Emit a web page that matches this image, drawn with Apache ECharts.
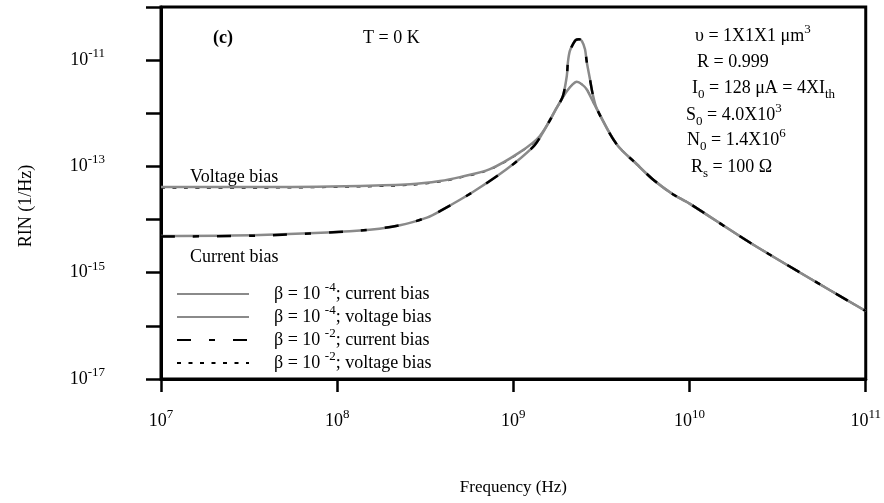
<!DOCTYPE html>
<html><head><meta charset="utf-8">
<script src="https://cdn.jsdelivr.net/npm/echarts@6/dist/echarts.min.js"></script>
<style>html,body{margin:0;padding:0;background:#fff}#c{width:884px;height:503px}</style>
</head><body><div id="c"></div>
<script>
const FONT = "'Liberation Serif','Times New Roman',serif";

// legend entries: [beta exponent, bias]
const legendBetaExp = ['-4', '-4', '-2', '-2'];
const legendBias = ['current bias', 'voltage bias', 'current bias', 'voltage bias'];

// tick label exponents
const xLabelExponents = [7, 8, 9, 10, 11];
const yLabelExponents = [-17, -15, -13, -11];

// beta = 1e-4, current bias
const freqCurrentB4 = [1.0e7, 3.65e7, 1.35e8, 2.27e8, 3.23e8, 3.83e8, 5.89e8, 9.18e8, 1.29e9, 1.45e9, 1.77e9, 1.91e9, 2.01e9, 2.04e9, 2.09e9, 2.18e9, 2.26e9, 2.36e9, 2.45e9, 2.55e9, 2.61e9, 2.72e9, 2.82e9, 2.98e9, 3.86e9, 5.02e9, 6.35e9, 8.04e9, 1.0e10, 2.29e10, 1.0e11];
const rinCurrentB4 = [4.9e-15, 5.1e-15, 6.2e-15, 7.85e-15, 1.09e-14, 1.44e-14, 3.3e-14, 8.9e-14, 2.3e-13, 4.0e-13, 1.3e-12, 2.1e-12, 5.0e-12, 9.2e-12, 1.48e-11, 2.0e-11, 2.4e-11, 2.48e-11, 2.28e-11, 1.6e-11, 9.2e-12, 4.4e-12, 2.3e-12, 1.2e-12, 2.6e-13, 1.1e-13, 5.3e-14, 3.0e-14, 2.0e-14, 3.4e-15, 1.9e-16];

// beta = 1e-4, voltage bias
const freqVoltageB4 = [1.0e7, 3.65e7, 1.35e8, 2.59e8, 3.83e8, 4.97e8, 7.36e8, 1.09e9, 1.41e9, 1.77e9, 1.91e9, 2.01e9, 2.15e9, 2.29e9, 2.45e9, 2.61e9, 2.82e9, 2.98e9, 3.86e9, 5.02e9, 6.35e9, 8.04e9, 1.0e10, 2.29e10, 1.0e11];
const rinVoltageB4 = [4.1e-14, 4.1e-14, 4.3e-14, 4.6e-14, 5.3e-14, 6.3e-14, 8.9e-14, 1.86e-13, 3.7e-13, 1.3e-12, 2.0e-12, 2.6e-12, 3.4e-12, 3.9e-12, 3.5e-12, 2.8e-12, 1.7e-12, 1.2e-12, 2.6e-13, 1.1e-13, 5.3e-14, 3.0e-14, 2.0e-14, 3.4e-15, 1.9e-16];

// beta = 1e-2, current bias
const freqCurrentB2 = [1.0e7, 3.65e7, 1.35e8, 2.27e8, 3.23e8, 3.83e8, 5.89e8, 9.18e8, 1.29e9, 1.45e9, 1.77e9, 1.91e9, 2.01e9, 2.04e9, 2.09e9, 2.18e9, 2.26e9, 2.36e9, 2.45e9, 2.55e9, 2.61e9, 2.72e9, 2.82e9, 2.98e9, 3.86e9, 5.02e9, 6.35e9, 8.04e9, 1.0e10, 2.29e10, 1.0e11];
const rinCurrentB2 = [4.8e-15, 5.0e-15, 6.2e-15, 7.85e-15, 1.09e-14, 1.44e-14, 3.3e-14, 8.9e-14, 2.3e-13, 4.0e-13, 1.3e-12, 2.1e-12, 5.0e-12, 9.2e-12, 1.48e-11, 2.0e-11, 2.4e-11, 2.48e-11, 2.28e-11, 1.6e-11, 9.2e-12, 4.4e-12, 2.3e-12, 1.2e-12, 2.6e-13, 1.1e-13, 5.3e-14, 3.0e-14, 2.0e-14, 3.4e-15, 1.9e-16];

// beta = 1e-2, voltage bias
const freqVoltageB2 = [1.0e7, 3.65e7, 1.35e8, 2.59e8, 3.83e8, 4.97e8, 7.36e8, 1.09e9, 1.41e9, 1.77e9, 1.91e9, 2.01e9, 2.15e9, 2.29e9, 2.45e9, 2.61e9, 2.82e9, 2.98e9, 3.86e9, 5.02e9, 6.35e9, 8.04e9, 1.0e10, 2.29e10, 1.0e11];
const rinVoltageB2 = [3.95e-14, 3.95e-14, 4.15e-14, 4.45e-14, 5.15e-14, 6.1e-14, 8.7e-14, 1.82e-13, 3.65e-13, 1.3e-12, 2.0e-12, 2.6e-12, 3.4e-12, 3.9e-12, 3.5e-12, 2.8e-12, 1.7e-12, 1.2e-12, 2.6e-13, 1.1e-13, 5.3e-14, 3.0e-14, 2.0e-14, 3.4e-15, 1.9e-16];

const zip = (xs, ys) => xs.map((x, i) => [x, ys[i]]);
const names = legendBetaExp.map((e, i) => 'b' + e + ' ' + legendBias[i]);

const supRich = {
  b: { fontFamily: FONT, fontSize: 18, color: '#000', lineHeight: 26, verticalAlign: 'middle' },
  s: { fontFamily: FONT, fontSize: 13, color: '#000', lineHeight: 13, verticalAlign: 'top' }
};
const annRich = {
  t: { fontFamily: FONT, fontSize: 18, color: '#000', lineHeight: 26, verticalAlign: 'middle' },
  tb: { fontFamily: FONT, fontSize: 18, fontWeight: 'bold', color: '#000', lineHeight: 26, verticalAlign: 'middle' },
  sup: { fontFamily: FONT, fontSize: 13, color: '#000', lineHeight: 13, verticalAlign: 'top' },
  sub: { fontFamily: FONT, fontSize: 13, color: '#000', lineHeight: 13, verticalAlign: 'bottom' },
  sp: { width: 20 }
};

function ann(x, y, text, rot) {
  const el = { type: 'text', x: x, y: y, z: 100,
    style: { text: text, rich: annRich, align: rot ? 'center' : 'left', verticalAlign: 'middle', fill: '#000', font: '18px ' + FONT } };
  if (rot) { el.rotation = Math.PI / 2; }
  return el;
}

const chart = echarts.init(document.getElementById('c'), null, { renderer: 'canvas' });
chart.setOption({
  animation: false,
  backgroundColor: '#fff',
  grid: { left: 161, right: 18, top: 7, bottom: 124, show: true, borderColor: '#000', borderWidth: 3, backgroundColor: 'transparent' },
  xAxis: {
    type: 'log', logBase: 10, min: 1e7, max: 1e11, interval: 1,
    name: 'Frequency (Hz)', nameLocation: 'middle', nameGap: 100,
    nameTextStyle: { fontFamily: FONT, fontSize: 17, color: '#000' },
    axisLine: { show: true, lineStyle: { color: '#000', width: 3 } },
    axisTick: { show: true, inside: false, length: 13, lineStyle: { color: '#000', width: 2.5 } },
    splitLine: { show: false }, minorTick: { show: false },
    axisLabel: {
      margin: 29, showMinLabel: true, showMaxLabel: true,
      formatter: v => { const e = Math.round(Math.log10(v)); return xLabelExponents.includes(e) ? '{b|10}{s|' + e + '}' : ''; },
      rich: supRich
    }
  },
  yAxis: {
    type: 'log', logBase: 10, min: 1e-17, max: 1e-10, interval: 1,
    axisLine: { show: true, lineStyle: { color: '#000', width: 3 } },
    axisTick: { show: true, inside: false, length: 15, lineStyle: { color: '#000', width: 2.5 } },
    splitLine: { show: false }, minorTick: { show: false },
    axisLabel: {
      margin: 56, showMinLabel: true, showMaxLabel: true,
      formatter: v => { const e = Math.round(Math.log10(v)); return yLabelExponents.includes(e) ? '{b|10}{s|' + e + '}' : ''; },
      rich: supRich
    }
  },
  legend: {
    orient: 'vertical', left: 171, top: 276, itemWidth: 72, itemHeight: 14, itemGap: 1,
    data: names,
    selectedMode: false,
    itemStyle: { opacity: 0, borderWidth: 0 },
    textStyle: { rich: annRich, fontFamily: FONT, fontSize: 18 },
    formatter: n => { const i = names.indexOf(n); return '{sp|}{t|β = 10 }{sup|' + legendBetaExp[i] + '}{t|; ' + legendBias[i] + '}'; }
  },
  series: [
    { name: names[0], type: 'line', z: 3, symbol: 'none', smooth: 0.3, data: zip(freqCurrentB4, rinCurrentB4),
      lineStyle: { color: '#8a8a8a', width: 2.5 }, itemStyle: { color: '#8a8a8a' } },
    { name: names[1], type: 'line', z: 2, symbol: 'none', smooth: 0.3, data: zip(freqVoltageB4, rinVoltageB4),
      lineStyle: { color: '#8a8a8a', width: 2.5 }, itemStyle: { color: '#8a8a8a' } },
    { name: names[2], type: 'line', z: 4, symbol: 'none', smooth: 0.3, data: zip(freqCurrentB2, rinCurrentB2),
      lineStyle: { color: '#000', width: 2.5, type: [14, 18, 6, 18] }, itemStyle: { color: '#000' } },
    { name: names[3], type: 'line', z: 1, symbol: 'none', smooth: 0.3, data: zip(freqVoltageB2, rinVoltageB2),
      lineStyle: { color: '#000', width: 1.6, type: [4, 7.5] }, itemStyle: { color: '#000' } }
  ],
  graphic: [
    ann(213, 38, '{tb|(c)}'),
    ann(363, 38, '{t|T = 0 K}'),
    ann(695, 36, '{t|υ = 1X1X1 μm}{sup|3}'),
    ann(697, 62, '{t|R = 0.999}'),
    ann(692, 88, '{t|I}{sub|0}{t| = 128 μA = 4XI}{sub|th}'),
    ann(686, 115, '{t|S}{sub|0}{t| = 4.0X10}{sup|3}'),
    ann(687, 140, '{t|N}{sub|0}{t| = 1.4X10}{sup|6}'),
    ann(691, 167, '{t|R}{sub|s}{t| = 100 Ω}'),
    ann(190, 177, '{t|Voltage bias}'),
    ann(190, 257, '{t|Current bias}'),
    ann(26, 206, '{t|RIN (1/Hz)}', true)
  ]
});
</script>
</body></html>
